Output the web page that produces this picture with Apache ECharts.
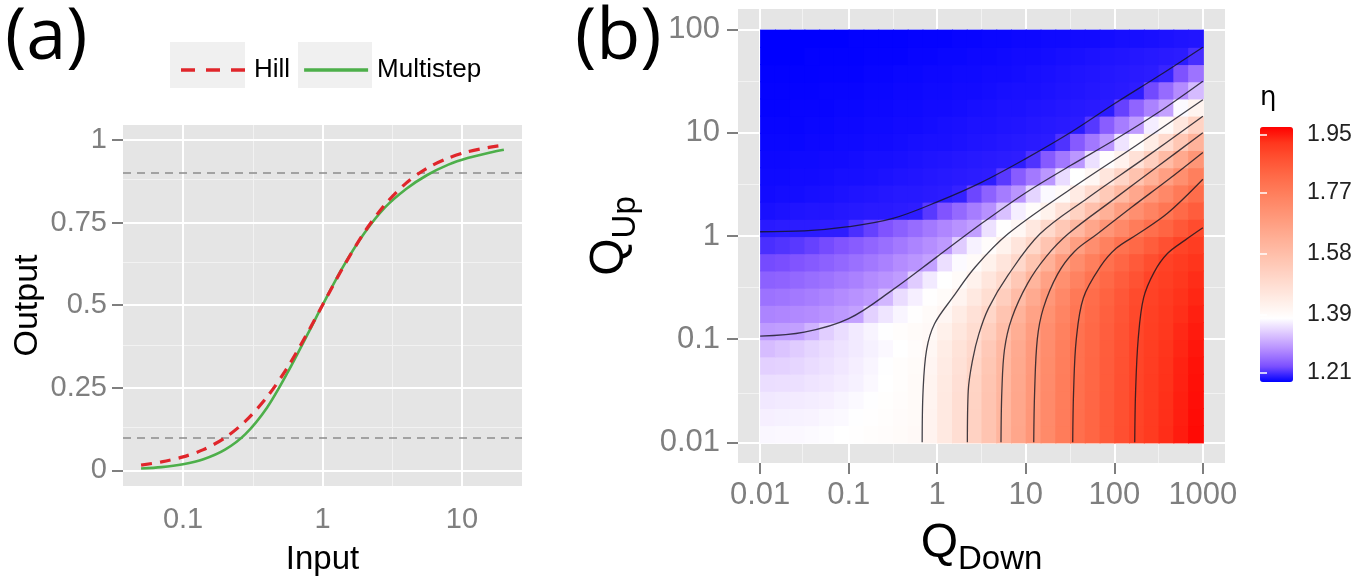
<!DOCTYPE html>
<html>
<head>
<meta charset="utf-8">
<script src="https://cdn.jsdelivr.net/npm/echarts@6/dist/echarts.min.js"></script>
<style>
html, body { margin: 0; padding: 0; background: #fff; }
#chart { width: 1371px; height: 581px; }
</style>
</head>
<body>
<div id="chart"></div>
<script>
// ---- panel (a): input / output curves ----
var inputX = [0.05, 0.07, 0.1, 0.14, 0.2, 0.28, 0.4, 0.56, 0.8, 1, 1.4, 2, 2.8, 4, 5.6, 8, 11, 16, 20];
var hillY = [0.016, 0.026, 0.041, 0.063, 0.099, 0.149, 0.222, 0.311, 0.424, 0.5, 0.613, 0.721, 0.804, 0.870, 0.914, 0.945, 0.964, 0.978, 0.984];
var multistepY = [0.006, 0.010, 0.019, 0.034, 0.063, 0.110, 0.190, 0.295, 0.420, 0.5, 0.615, 0.718, 0.795, 0.852, 0.893, 0.925, 0.945, 0.962, 0.970];
var refLevels = [0.1, 0.9];

var aXTicks = [0.1, 1, 10];
var aXMinor = [0.316, 3.16];
var aYTicks = [0, 0.25, 0.5, 0.75, 1];
var aYMinor = [0.125, 0.375, 0.625, 0.875];

// ---- panel (b): eta over QDown x QUp ----
var bXTicks = [0.01, 0.1, 1, 10, 100, 1000];
var bXMinor = [0.0316, 0.316, 3.16, 31.6, 316];
var bYTicks = [0.01, 0.1, 1, 10, 100];
var bYMinor = [0.0316, 0.316, 3.16, 31.6];
var etaTicks = [1.21, 1.39, 1.58, 1.77, 1.95];

// cell centres, six per decade
var qDownCells = [0.0121, 0.0178, 0.0261, 0.0383, 0.0562, 0.0826, 0.121, 0.178, 0.261, 0.383,
  0.562, 0.826, 1.21, 1.78, 2.61, 3.83, 5.62, 8.26, 12.1, 17.8,
  26.1, 38.3, 56.2, 82.6, 121, 178, 261, 383, 562, 826];
var qUpCells = [0.0121, 0.0178, 0.0261, 0.0383, 0.0562, 0.0826, 0.121, 0.178, 0.261, 0.383,
  0.562, 0.826, 1.21, 1.78, 2.61, 3.83, 5.62, 8.26, 12.1, 17.8,
  26.1, 38.3, 56.2, 82.6];
// one row per qUp cell, bottom to top
var etaGrid = [
  [1.373, 1.374, 1.374, 1.376, 1.378, 1.380, 1.382, 1.386, 1.389, 1.393, 1.398, 1.417, 1.449, 1.482, 1.520, 1.563, 1.608, 1.653, 1.698, 1.736, 1.774, 1.807, 1.831, 1.855, 1.879, 1.902, 1.918, 1.934, 1.950, 1.966],
  [1.367, 1.368, 1.369, 1.370, 1.373, 1.375, 1.379, 1.382, 1.387, 1.392, 1.397, 1.416, 1.449, 1.481, 1.519, 1.563, 1.607, 1.652, 1.697, 1.735, 1.773, 1.807, 1.831, 1.855, 1.878, 1.901, 1.917, 1.933, 1.948, 1.964],
  [1.361, 1.362, 1.363, 1.365, 1.367, 1.371, 1.375, 1.379, 1.384, 1.390, 1.396, 1.415, 1.448, 1.481, 1.518, 1.562, 1.606, 1.651, 1.696, 1.735, 1.772, 1.806, 1.830, 1.854, 1.878, 1.901, 1.916, 1.932, 1.947, 1.962],
  [1.352, 1.353, 1.354, 1.357, 1.360, 1.364, 1.368, 1.374, 1.380, 1.387, 1.395, 1.413, 1.446, 1.478, 1.514, 1.559, 1.604, 1.649, 1.694, 1.733, 1.771, 1.805, 1.829, 1.853, 1.877, 1.900, 1.916, 1.930, 1.945, 1.961],
  [1.340, 1.342, 1.345, 1.350, 1.355, 1.360, 1.366, 1.372, 1.379, 1.387, 1.394, 1.410, 1.441, 1.473, 1.507, 1.554, 1.600, 1.646, 1.691, 1.731, 1.769, 1.804, 1.828, 1.852, 1.875, 1.899, 1.914, 1.929, 1.944, 1.959],
  [1.323, 1.330, 1.337, 1.344, 1.350, 1.356, 1.362, 1.368, 1.374, 1.381, 1.389, 1.406, 1.436, 1.467, 1.497, 1.546, 1.596, 1.642, 1.688, 1.728, 1.766, 1.803, 1.826, 1.850, 1.874, 1.898, 1.913, 1.927, 1.941, 1.955],
  [1.295, 1.297, 1.299, 1.315, 1.338, 1.351, 1.362, 1.371, 1.379, 1.386, 1.393, 1.399, 1.425, 1.456, 1.487, 1.530, 1.582, 1.632, 1.681, 1.723, 1.761, 1.799, 1.823, 1.847, 1.871, 1.895, 1.911, 1.924, 1.938, 1.951],
  [1.275, 1.277, 1.279, 1.282, 1.287, 1.293, 1.300, 1.341, 1.358, 1.372, 1.383, 1.393, 1.407, 1.439, 1.472, 1.508, 1.562, 1.616, 1.667, 1.714, 1.753, 1.791, 1.819, 1.843, 1.867, 1.892, 1.908, 1.921, 1.933, 1.946],
  [1.260, 1.262, 1.266, 1.270, 1.275, 1.281, 1.287, 1.294, 1.319, 1.350, 1.367, 1.382, 1.393, 1.414, 1.449, 1.484, 1.531, 1.587, 1.642, 1.698, 1.740, 1.781, 1.813, 1.838, 1.862, 1.887, 1.905, 1.917, 1.929, 1.940],
  [1.245, 1.247, 1.251, 1.256, 1.261, 1.267, 1.273, 1.281, 1.288, 1.296, 1.337, 1.362, 1.380, 1.394, 1.420, 1.457, 1.495, 1.551, 1.610, 1.669, 1.719, 1.757, 1.796, 1.823, 1.849, 1.874, 1.900, 1.911, 1.923, 1.934],
  [1.228, 1.230, 1.234, 1.239, 1.245, 1.251, 1.258, 1.265, 1.273, 1.282, 1.290, 1.300, 1.353, 1.376, 1.394, 1.422, 1.461, 1.500, 1.561, 1.622, 1.683, 1.728, 1.767, 1.804, 1.830, 1.856, 1.882, 1.904, 1.915, 1.927],
  [1.211, 1.214, 1.217, 1.222, 1.228, 1.234, 1.241, 1.249, 1.257, 1.266, 1.275, 1.284, 1.294, 1.337, 1.369, 1.390, 1.418, 1.461, 1.505, 1.562, 1.619, 1.676, 1.723, 1.761, 1.799, 1.825, 1.851, 1.877, 1.901, 1.914],
  [1.198, 1.199, 1.199, 1.199, 1.200, 1.200, 1.211, 1.222, 1.233, 1.244, 1.255, 1.266, 1.277, 1.287, 1.298, 1.355, 1.382, 1.404, 1.451, 1.498, 1.550, 1.602, 1.653, 1.703, 1.738, 1.774, 1.807, 1.833, 1.860, 1.886],
  [1.192, 1.193, 1.194, 1.195, 1.195, 1.196, 1.197, 1.198, 1.198, 1.199, 1.200, 1.217, 1.234, 1.252, 1.269, 1.286, 1.327, 1.366, 1.390, 1.422, 1.471, 1.521, 1.574, 1.626, 1.678, 1.720, 1.754, 1.789, 1.820, 1.849],
  [1.189, 1.190, 1.190, 1.191, 1.192, 1.193, 1.194, 1.195, 1.196, 1.197, 1.197, 1.198, 1.199, 1.203, 1.225, 1.246, 1.268, 1.290, 1.344, 1.375, 1.397, 1.441, 1.491, 1.545, 1.598, 1.650, 1.701, 1.740, 1.779, 1.814],
  [1.188, 1.188, 1.189, 1.189, 1.190, 1.191, 1.191, 1.192, 1.193, 1.194, 1.195, 1.196, 1.197, 1.198, 1.199, 1.200, 1.217, 1.241, 1.266, 1.291, 1.350, 1.380, 1.406, 1.457, 1.510, 1.567, 1.622, 1.674, 1.722, 1.766],
  [1.187, 1.187, 1.188, 1.188, 1.189, 1.189, 1.190, 1.191, 1.191, 1.192, 1.193, 1.194, 1.195, 1.196, 1.197, 1.198, 1.199, 1.200, 1.213, 1.239, 1.265, 1.291, 1.354, 1.385, 1.419, 1.473, 1.530, 1.591, 1.647, 1.702],
  [1.186, 1.186, 1.186, 1.187, 1.187, 1.188, 1.188, 1.189, 1.189, 1.190, 1.191, 1.192, 1.192, 1.193, 1.194, 1.195, 1.196, 1.197, 1.198, 1.199, 1.213, 1.239, 1.265, 1.291, 1.357, 1.390, 1.436, 1.492, 1.555, 1.616],
  [1.185, 1.185, 1.185, 1.186, 1.186, 1.187, 1.187, 1.188, 1.188, 1.189, 1.189, 1.190, 1.191, 1.192, 1.193, 1.193, 1.194, 1.195, 1.196, 1.197, 1.198, 1.199, 1.216, 1.242, 1.269, 1.295, 1.365, 1.398, 1.455, 1.516],
  [1.184, 1.184, 1.185, 1.185, 1.185, 1.186, 1.186, 1.187, 1.187, 1.188, 1.188, 1.189, 1.189, 1.190, 1.191, 1.192, 1.193, 1.193, 1.194, 1.195, 1.196, 1.197, 1.198, 1.199, 1.222, 1.248, 1.274, 1.300, 1.375, 1.413],
  [1.184, 1.184, 1.184, 1.184, 1.185, 1.185, 1.185, 1.186, 1.186, 1.187, 1.187, 1.188, 1.188, 1.189, 1.189, 1.190, 1.191, 1.192, 1.192, 1.193, 1.194, 1.195, 1.196, 1.197, 1.198, 1.200, 1.227, 1.254, 1.282, 1.322],
  [1.183, 1.183, 1.183, 1.183, 1.184, 1.184, 1.184, 1.185, 1.185, 1.186, 1.186, 1.187, 1.187, 1.188, 1.188, 1.189, 1.189, 1.190, 1.191, 1.192, 1.193, 1.194, 1.195, 1.196, 1.197, 1.198, 1.199, 1.204, 1.232, 1.261],
  [1.182, 1.182, 1.182, 1.183, 1.183, 1.183, 1.183, 1.184, 1.184, 1.184, 1.185, 1.185, 1.186, 1.186, 1.187, 1.187, 1.188, 1.189, 1.189, 1.190, 1.191, 1.192, 1.193, 1.194, 1.195, 1.196, 1.197, 1.198, 1.199, 1.210],
  [1.182, 1.182, 1.182, 1.182, 1.182, 1.182, 1.183, 1.183, 1.183, 1.183, 1.184, 1.184, 1.184, 1.185, 1.185, 1.186, 1.186, 1.187, 1.187, 1.188, 1.188, 1.189, 1.189, 1.190, 1.191, 1.191, 1.192, 1.193, 1.194, 1.195]
];

// contour lines, levels 1.2 ... 1.9
var c12Down = [0.01, 0.0316, 0.1, 0.316, 1, 3.16, 10, 31.6, 100, 316, 1000];
var c12Up   = [1.10, 1.12, 1.23, 1.48, 2.14, 3.31, 5.62, 10.0, 19.1, 35.5, 67.6];
var c13Down = [0.01, 0.0316, 0.1, 0.316, 1, 3.16, 10, 31.6, 100, 316, 1000];
var c13Up   = [0.107, 0.117, 0.158, 0.302, 0.631, 1.32, 2.63, 4.79, 8.51, 15.8, 31.6];
var c14Down = [0.676, 0.692, 0.759, 0.933, 1.48, 2.69, 6.31, 31.6, 178, 1000];
var c14Up   = [0.01, 0.0316, 0.0794, 0.141, 0.251, 0.501, 1.05, 2.82, 7.59, 20.9];
var c15Down = [2.19, 2.24, 2.51, 2.95, 3.80, 6.31, 14.5, 50.1, 224, 1000];
var c15Up   = [0.01, 0.0316, 0.0631, 0.112, 0.2, 0.417, 1.05, 2.34, 5.75, 14.5];
var c16Down = [5.25, 5.37, 5.75, 6.92, 10.5, 17.0, 30.2, 100, 316, 1000];
var c16Up   = [0.01, 0.0316, 0.0794, 0.158, 0.347, 0.631, 1.05, 2.29, 4.79, 10.0];
var c17Down = [12.3, 12.6, 13.5, 15.8, 22.9, 35.5, 64.6, 158, 398, 1000];
var c17Up   = [0.01, 0.0316, 0.1, 0.2, 0.427, 0.708, 1.05, 1.91, 3.47, 6.46];
var c18Down = [33.9, 34.7, 37.2, 44.7, 69.2, 105, 186, 398, 1000];
var c18Up   = [0.01, 0.0316, 0.1, 0.251, 0.501, 0.759, 1.05, 1.66, 3.55];
var c19Down = [170, 174, 186, 214, 282, 398, 631, 1000];
var c19Up   = [0.01, 0.0316, 0.1, 0.251, 0.447, 0.676, 0.912, 1.20];

var etaColors = ['#0000ff', '#7e51ff', '#b38bff', '#dcc5ff', '#ffffff',
  '#ffefe9', '#ffdfd4', '#ffcfbf', '#ffbfaa', '#ffaf96', '#ff9e81',
  '#ff8d6d', '#ff7b59', '#ff6846', '#ff5132', '#ff371d', '#ff0000'];

var chart = echarts.init(document.getElementById('chart'));

function zip(xs, ys) {
  return xs.map(function (x, i) { return [x, ys[i]]; });
}

var cells = [];
etaGrid.forEach(function (row, j) {
  row.forEach(function (v, i) {
    cells.push([qDownCells[i], qUpCells[j], v]);
  });
});

var cellHalf = Math.pow(10, 1 / 12);
function renderCell(params, api) {
  var x = api.value(0), y = api.value(1);
  var p0 = api.coord([x / cellHalf, y * cellHalf]);
  var p1 = api.coord([x * cellHalf, y / cellHalf]);
  return {
    type: 'rect',
    shape: { x: p0[0], y: p0[1], width: p1[0] - p0[0] + 1, height: p1[1] - p0[1] + 1 },
    style: { fill: api.visual('color') }
  };
}

function gridLines(xMajor, xMinor, yMajor, yMinor) {
  var d = [];
  xMinor.forEach(function (v) { d.push({ xAxis: v, lineStyle: { color: '#f2f2f2', width: 1, type: 'solid' } }); });
  yMinor.forEach(function (v) { d.push({ yAxis: v, lineStyle: { color: '#f2f2f2', width: 1, type: 'solid' } }); });
  xMajor.forEach(function (v) { d.push({ xAxis: v, lineStyle: { color: '#ffffff', width: 2, type: 'solid' } }); });
  yMajor.forEach(function (v) { d.push({ yAxis: v, lineStyle: { color: '#ffffff', width: 2, type: 'solid' } }); });
  return d;
}

var aLines = gridLines(aXTicks, aXMinor, aYTicks, aYMinor);
refLevels.forEach(function (v) {
  aLines.push({ yAxis: v, lineStyle: { color: '#8c8c8c', width: 1.5, type: [8, 6] } });
});

var tickTextA = { fontSize: 29, color: '#7f7f7f', fontFamily: 'Liberation Sans' };
var tickTextB = { fontSize: 31, color: '#7f7f7f', fontFamily: 'Liberation Sans' };
var tickLine = { color: '#7f7f7f', width: 2 };
var qRich = {
  q: { fontSize: 48, color: '#000', fontFamily: 'Liberation Sans' },
  s: { fontSize: 33, color: '#000', fontFamily: 'Liberation Sans', padding: [32, 0, 0, 0] }
};

function contour(name, xs, ys) {
  return {
    name: name, type: 'line', xAxisIndex: 1, yAxisIndex: 1,
    data: zip(xs, ys), smooth: 0.35, showSymbol: false, symbol: 'none',
    silent: true, z: 4,
    lineStyle: { color: 'rgba(20,20,30,0.8)', width: 1.3 }
  };
}

var option = {
  animation: false,
  backgroundColor: '#fff',
  title: [
    { text: '(a)', left: 0, top: -3, textStyle: { fontSize: 72, fontWeight: 'normal', color: '#000', fontFamily: 'Open Sans' } },
    { text: '(b)', left: 570, top: -3, textStyle: { fontSize: 72, fontWeight: 'normal', color: '#000', fontFamily: 'Open Sans' } }
  ],
  graphic: [
    { type: 'rect', left: 170, top: 42, shape: { width: 75, height: 46 }, style: { fill: '#f0f0f0' }, z: -1 },
    { type: 'rect', left: 298, top: 42, shape: { width: 74, height: 46 }, style: { fill: '#f0f0f0' }, z: -1 }
  ],
  legend: {
    data: [
      { name: 'Hill', icon: 'path://M0,0h14v3h-14z M25,0h14v3h-14z M50,0h14v3h-14z' },
      { name: 'Multistep', icon: 'rect' }
    ],
    left: 176, top: 52,
    itemWidth: 64, itemHeight: 3.5, itemGap: 14, symbolKeepAspect: false,
    itemStyle: { borderWidth: 0 },
    textStyle: { fontSize: 26, color: '#000', fontFamily: 'Liberation Sans', padding: [0, 0, 0, 4] }
  },
  grid: [
    { left: 123, top: 125, width: 399, height: 364, show: true, backgroundColor: '#e5e5e5', borderWidth: 0 },
    { left: 738, top: 9, width: 487, height: 456, show: true, backgroundColor: '#e5e5e5', borderWidth: 0 },
    { left: 1260, top: 127, width: 33, height: 255, show: false }
  ],
  xAxis: [
    {
      type: 'log', gridIndex: 0, min: 0.0371, max: 26.98,
      axisLine: { show: false }, splitLine: { show: false },
      axisTick: { show: true, customValues: aXTicks, length: 11, lineStyle: tickLine },
      axisLabel: Object.assign({ customValues: aXTicks, margin: 19, formatter: function (v) { return String(v); } }, tickTextA),
      name: 'Input', nameLocation: 'middle', nameGap: 57, nameMoveOverlap: false,
      nameTextStyle: { fontSize: 33, color: '#000', fontFamily: 'Liberation Sans' }
    },
    {
      type: 'log', gridIndex: 1, min: 0.005623, max: 1778.3,
      axisLine: { show: false }, splitLine: { show: false },
      axisTick: { show: true, customValues: bXTicks, length: 11, lineStyle: tickLine },
      axisLabel: Object.assign({ customValues: bXTicks, margin: 17, formatter: function (v) { return String(v); } }, tickTextB),
      name: '{q|Q}{s|Down}', nameLocation: 'middle', nameGap: 48,
      nameTextStyle: { rich: qRich }
    },
    { type: 'value', gridIndex: 2, min: 0, max: 1, show: false }
  ],
  yAxis: [
    {
      type: 'value', gridIndex: 0, min: -0.047, max: 1.045,
      axisLine: { show: false }, splitLine: { show: false },
      axisTick: { show: true, customValues: aYTicks, length: 11, lineStyle: tickLine },
      axisLabel: Object.assign({ customValues: aYTicks, margin: 16 }, tickTextA),
      name: 'Output', nameLocation: 'middle', nameGap: 78, nameRotate: 90, nameMoveOverlap: false,
      nameTextStyle: { fontSize: 34, color: '#000', fontFamily: 'Liberation Sans' }
    },
    {
      type: 'log', gridIndex: 1, min: 0.00631, max: 158.5,
      axisLine: { show: false }, splitLine: { show: false },
      axisTick: { show: true, customValues: bYTicks, length: 11, lineStyle: tickLine },
      axisLabel: Object.assign({ customValues: bYTicks, margin: 18, formatter: function (v) { return String(v); } }, tickTextB),
      name: '{q|Q}{s|Up}', nameLocation: 'middle', nameGap: 96, nameRotate: 90,
      nameTextStyle: { rich: qRich }
    },
    {
      type: 'value', gridIndex: 2, min: 1.182, max: 1.975, position: 'right', z: 10,
      axisLine: { show: false }, splitLine: { show: false },
      axisTick: { show: true, inside: true, customValues: etaTicks, length: 7, lineStyle: { color: '#fff', width: 1.5 } },
      axisLabel: { customValues: etaTicks, margin: 14, fontSize: 23, color: '#222', fontFamily: 'Liberation Sans',
        formatter: function (v) { return v.toFixed(2); } }
    },
    {
      type: 'value', gridIndex: 2, min: 1.182, max: 1.975, position: 'left', z: 10,
      axisLine: { show: false }, splitLine: { show: false },
      axisTick: { show: true, inside: true, customValues: etaTicks, length: 7, lineStyle: { color: '#fff', width: 1.5 } },
      axisLabel: { show: false },
      name: 'η', nameLocation: 'end', nameGap: 16,
      nameTextStyle: { fontSize: 26, color: '#000', align: 'left', fontFamily: 'DejaVu Sans' }
    }
  ],
  visualMap: {
    type: 'continuous', min: 1.182, max: 1.975, dimension: 2, seriesIndex: 3,
    calculable: false, hoverLink: false, padding: 0,
    left: 1260, top: 127, itemWidth: 33, itemHeight: 255,
    inRange: { color: etaColors }
  },
  series: [
    {
      name: 'gridA', type: 'line', xAxisIndex: 0, yAxisIndex: 0, data: [], silent: true,
      markLine: { silent: true, symbol: 'none', label: { show: false }, z: 1, data: aLines }
    },
    {
      name: 'Hill', type: 'line', xAxisIndex: 0, yAxisIndex: 0, z: 4,
      data: zip(inputX, hillY), smooth: 0.3, showSymbol: false, symbol: 'none',
      itemStyle: { color: '#e0262b' },
      lineStyle: { color: '#e0262b', width: 3.2, type: [11, 8] }
    },
    {
      name: 'gridB', type: 'line', xAxisIndex: 1, yAxisIndex: 1, data: [], silent: true,
      markLine: { silent: true, symbol: 'none', label: { show: false }, z: 1,
        data: gridLines(bXTicks, bXMinor, bYTicks, bYMinor) }
    },
    {
      name: 'eta', type: 'custom', xAxisIndex: 1, yAxisIndex: 1, z: 2, silent: true,
      renderItem: renderCell, data: cells, encode: { x: 0, y: 1 }
    },
    {
      name: 'Multistep', type: 'line', xAxisIndex: 0, yAxisIndex: 0, z: 3,
      data: zip(inputX, multistepY), smooth: 0.3, showSymbol: false, symbol: 'none',
      itemStyle: { color: '#4daf4a' },
      lineStyle: { color: '#4daf4a', width: 2.6, type: 'solid' }
    },
    contour('c12', c12Down, c12Up),
    contour('c13', c13Down, c13Up),
    contour('c14', c14Down, c14Up),
    contour('c15', c15Down, c15Up),
    contour('c16', c16Down, c16Up),
    contour('c17', c17Down, c17Up),
    contour('c18', c18Down, c18Up),
    contour('c19', c19Down, c19Up)
  ]
};

chart.setOption(option);
</script>
</body>
</html>
